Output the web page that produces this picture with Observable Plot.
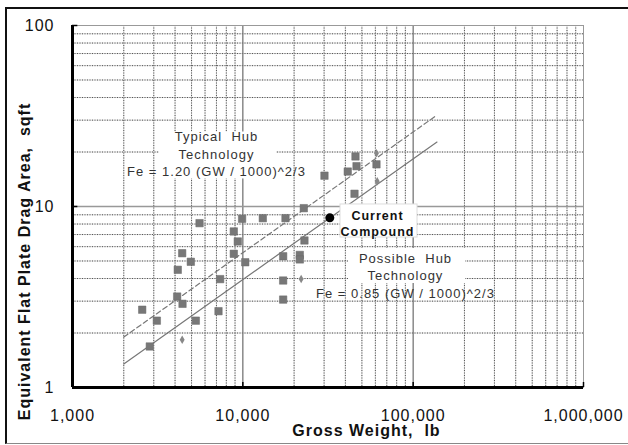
<!DOCTYPE html>
<html><head><meta charset="utf-8">
<script src="https://cdn.jsdelivr.net/npm/d3@7"></script>
<script src="https://cdn.jsdelivr.net/npm/@observablehq/plot@0.6"></script>
<style>
html,body{margin:0;padding:0;background:#fff;}
#wrap{position:relative;width:628px;height:445px;overflow:hidden;}
#border{position:absolute;left:5px;top:7px;width:640px;height:434px;border-left:2px solid #111;border-top:2px solid #111;border-bottom:1px solid #888;}
#chart{position:absolute;left:0;top:0;}
#chart svg text{letter-spacing:1px;}
#chart [aria-label="x title"], #chart [aria-label="x title"] text{letter-spacing:1.2px;}
#chart [aria-label="y title"], #chart [aria-label="y title"] text{letter-spacing:1.1px;}
#chart [aria-label="hub note"], #chart [aria-label="hub note"] text{letter-spacing:0.7px;}
#chart [aria-label="current note"], #chart [aria-label="current note"] text{letter-spacing:0.5px;}
</style></head>
<body><div id="wrap"><div id="border"></div><div id="chart"></div></div>
<script>
// Aircraft data (gross weight lb, equivalent flat plate drag area sqft)
const squareWeight = [2566,2843,3127,4115,4150,4405,4425,4950,5296,5570,7197,7360,8850,9340,8850,9900,10330,13100,17800,17250,17250,17250,21600,21600,23000,22800,30150,41300,45250,45850,46500,60900];
const squareArea   = [2.69,1.685,2.34,3.18,4.47,5.52,2.90,4.95,2.34,8.09,2.64,3.97,7.28,6.41,5.48,8.55,4.92,8.62,8.62,5.31,3.90,3.06,5.4,5.1,6.49,9.79,14.8,15.6,11.76,18.9,16.7,17.1];
const diamondWeight = [4405,22000,60900,61500];
const diamondArea   = [1.835,3.98,19.7,13.8];
const currentWeight = [32400];
const currentArea   = [8.66];
// Trend lines (end points)
const typicalWeight = [2000,138000];
const typicalArea   = [1.9,32.0];
const possibleWeight = [2000,138000];
const possibleArea   = [1.35,22.7];
// Ticks / grid
const xTickValues = [1000,10000,100000,1000000];
const xTickLabels = ["1,000","10,000","100,000","1,000,000"];
const yTickValues = [1,10,100];
const yTickLabels = ["1","10","100"];
const xMinor = [2000,3000,4000,5000,6000,7000,8000,9000,20000,30000,40000,50000,60000,70000,80000,90000,200000,300000,400000,500000,600000,700000,800000,900000];
const xMajor = [10000,100000];
const yMinor = [2,3,4,5,6,7,8,9,20,30,40,50,60,70,80,90];
const yMajor = [10];

const squares = squareWeight.map((w,i)=>({w,a:squareArea[i]}));
const diamonds = diamondWeight.map((w,i)=>({w,a:diamondArea[i]}));
const current = currentWeight.map((w,i)=>({w,a:currentArea[i]}));
const typical = typicalWeight.map((w,i)=>({w,a:typicalArea[i]}));
const possible = possibleWeight.map((w,i)=>({w,a:possibleArea[i]}));

const font = "'Liberation Sans', Arial, Helvetica, sans-serif";
const one = [0];

const chart = Plot.plot({
  width:628, height:445,
  marginLeft:72, marginRight:45, marginTop:25, marginBottom:58,
  x:{type:"log", domain:[1000,1000000]},
  y:{type:"log", domain:[1,100]},
  style:{fontFamily:font, background:"transparent", color:"#111"},
  marks:[
    Plot.ruleX(xMinor,{stroke:"#d4d4d4", strokeWidth:1}),
    Plot.ruleY(yMinor,{stroke:"#d4d4d4", strokeWidth:1}),
    Plot.ruleX(xMinor,{stroke:"#555", strokeWidth:1, strokeDasharray:"1,1.5"}),
    Plot.ruleY(yMinor,{stroke:"#555", strokeWidth:1, strokeDasharray:"1,1.5"}),
    Plot.ruleX(xMajor,{stroke:"#777", strokeWidth:1.3}),
    Plot.ruleY(yMajor,{stroke:"#999", strokeWidth:1.6}),
    Plot.frame({stroke:"#999", strokeWidth:1}),
    Plot.line(typical,{x:"w", y:"a", stroke:"#777", strokeWidth:1.2, strokeDasharray:"5,3"}),
    Plot.line(possible,{x:"w", y:"a", stroke:"#777", strokeWidth:1.2}),
    Plot.dot(squares,{x:"w", y:"a", symbol:"square", r:4.2, fill:"#777", stroke:"#6a6a6a", strokeWidth:0.5}),
    Plot.dot(diamonds,{x:"w", y:"a", symbol:"diamond", r:2.6, fill:"#888"}),
    Plot.dot(current,{x:"w", y:"a", r:4.5, fill:"#000"}),
    // annotation boxes
    Plot.rect(one,{x1:3243, x2:15760, y1:14.2, y2:25.8, fill:"#fff"}),
    Plot.rect(one,{x1:37450, x2:106050, y1:6.74, y2:10.26, fill:"#fff", stroke:"#ddd"}),
    Plot.rect(one,{x1:41730, x2:202900, y1:3.755, y2:5.86, fill:"#fff"}),
    Plot.text(one,{x:7005, y:19.75, text:()=>"Typical\u00a0\u00a0Hub\nTechnology\nFe = 1.20 (GW / 1000)^2/3", fontSize:13, lineHeight:1.35, fill:"#333", ariaLabel:"hub note"}),
    Plot.text(one,{x:61750, y:8.15, text:()=>"Current\nCompound", fontSize:12.5, fontWeight:"bold", lineHeight:1.3, fill:"#111", ariaLabel:"current note"}),
    Plot.text(one,{x:90150, y:4.21, text:()=>"Possible\u00a0\u00a0Hub\nTechnology\nFe = 0.85 (GW / 1000)^2/3", fontSize:13, lineHeight:1.35, fill:"#333", ariaLabel:"hub note"}),
    // inner ticks
    Plot.ruleX(xTickValues.slice(1),{y1:1, y2:1.066, stroke:"#000", strokeWidth:1.5}),
    Plot.ruleY(yTickValues.slice(1),{x1:1000, x2:1075, stroke:"#000", strokeWidth:1.5}),
    // axis lines
    Plot.ruleX([1000],{stroke:"#000", strokeWidth:3}),
    Plot.ruleY([1],{stroke:"#000", strokeWidth:3}),
    Plot.axisX({ticks:xTickValues, tickFormat:d=>xTickLabels[xTickValues.indexOf(d)], tickSize:0, tickPadding:22, fontSize:16, label:null}),
    Plot.axisY({ticks:yTickValues, tickFormat:d=>yTickLabels[yTickValues.indexOf(d)], tickSize:0, tickPadding:18, fontSize:16, label:null}),
    Plot.text(one,{frameAnchor:"bottom", text:()=>"Gross Weight,\u00a0\u00a0lb", fontSize:16, fontWeight:"bold", lineAnchor:"middle", dx:38.5, dy:43, fill:"#111", ariaLabel:"x title"}),
    Plot.text(one,{frameAnchor:"left", text:()=>"Equivalent Flat Plate Drag Area,\u00a0\u00a0sqft", fontSize:16, fontWeight:"bold", rotate:-90, textAnchor:"middle", lineAnchor:"middle", dx:-48, dy:55, fill:"#111", ariaLabel:"y title"})
  ]
});
document.getElementById("chart").appendChild(chart);
</script>
</body></html>
